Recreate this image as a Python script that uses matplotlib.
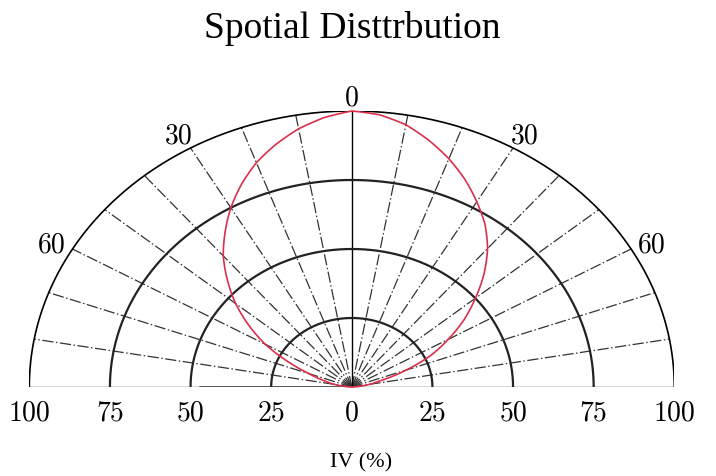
import numpy as np
import matplotlib
matplotlib.use("Agg")
import matplotlib.pyplot as plt
from matplotlib.path import Path

# angle from the vertical axis (deg) and relative intensity (%)
angles = [0, 5, 10, 15, 20, 25, 30, 35, 40, 45, 50, 55, 60, 65, 70, 75, 80, 85, 90]
intensity_left = [100, 98, 95, 91, 86.5, 81, 75, 68.5, 62, 54.5, 47, 39, 31, 22, 14, 9, 5.5, 2, 0]
intensity_right = [100, 99, 96.5, 92.5, 88, 83, 77.5, 72, 65.5, 58, 50, 42.5, 34.5, 27, 18, 10, 5.5, 2, 0]

rings = [25, 50, 75]
spokes = [10, 20, 30, 40, 50, 60, 70, 80]
angle_labels = [0, 30, 60]
r_ticks = [-100, -75, -50, -25, 0, 25, 50, 75, 100]

fig = plt.figure(figsize=(7.16, 4.77), dpi=100)
ax = fig.add_axes([29.3 / 716, (477 - 388) / 477, 645 / 716, 276 / 477])
ax.set_xlim(-100, 100)
ax.set_ylim(0, 100)
ax.axis("off")

t = np.linspace(-np.pi / 2, np.pi / 2, 400)

# radial spokes (dash-dot)
for a in spokes:
    for s in (-1, 1):
        th = np.radians(a) * s
        ax.plot([0, 100 * np.sin(th)], [0, 100 * np.cos(th)], color="#333333",
                lw=0.9, dashes=(9, 2, 1.2, 2), zorder=1)
ax.plot([0, 0], [0, 100], color="black", lw=1.0, zorder=2)

# rings
for r in rings:
    ax.plot(r * np.sin(t), r * np.cos(t), color="#222222", lw=1.6, zorder=2)
ax.plot(100 * np.sin(t), 100 * np.cos(t), color="black", lw=1.2, zorder=2)

# baseline
ax.plot([-100, 100], [0, 0], color="#333333", lw=1.0, zorder=2)
ax.plot([-47, 0], [0, 0], color="#333333", lw=1.8, zorder=2)

# intensity curve, drawn in polar space like a polar axes would
th_all = np.radians(np.concatenate([-np.array(angles)[::-1], np.array(angles)[1:]]))
r_all = np.concatenate([np.array(intensity_left)[::-1], np.array(intensity_right)[1:]])
pp = Path(np.column_stack([th_all, r_all])).interpolated(20).vertices
ax.plot(pp[:, 1] * np.sin(pp[:, 0]), pp[:, 1] * np.cos(pp[:, 0]),
        color="#d9304a", lw=1.2, zorder=3, clip_on=False)

# labels
num_font = dict(fontfamily="cmr10", fontsize=20)
for a in angle_labels:
    if a == 0:
        ax.text(0, 105, "0", ha="center", va="center", **num_font)
        continue
    rr = 107.5
    for s in (-1, 1):
        x = s * rr * np.sin(np.radians(a))
        y = rr * np.cos(np.radians(a))
        ax.text(x, y - 2, str(a), ha="center", va="center", **num_font)

for v in r_ticks:
    ax.text(v, -9, str(abs(v)), ha="center", va="center", **num_font)

ax.text(2.8, -27, "IV (%)", ha="center", va="center",
        fontfamily="Liberation Serif", fontsize=16)

fig.text(352 / 716, 1 - 28 / 477, "Spotial Disttrbution", ha="center", va="center",
         fontfamily="Liberation Serif", fontsize=27)

fig.savefig("out.png", dpi=100)
